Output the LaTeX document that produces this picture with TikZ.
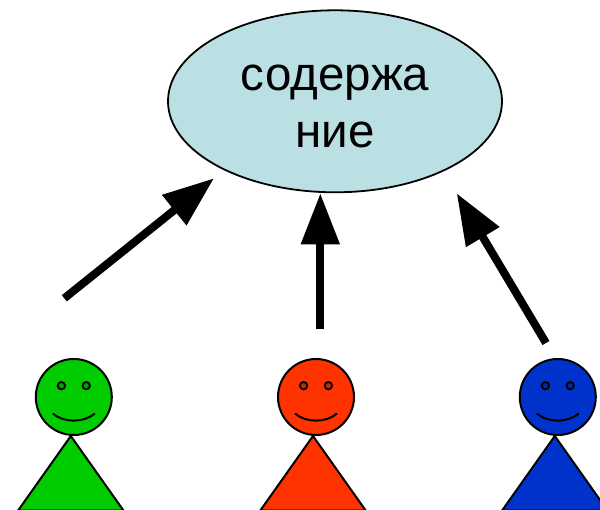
\documentclass[tikz,border=0pt]{standalone}
\usepackage{fontspec}
\setmainfont{Liberation Sans}
\usetikzlibrary{shapes.geometric,arrows.meta}
\tikzset{
 px/.style={x=1pt,y=-1pt},
 bubble/.style={ellipse,draw=black,line width=1.8pt,fill=bubblefill,minimum width=334pt,minimum height=182pt,inner sep=0pt},
 bubbletext/.style={anchor=base,inner sep=0pt,font=\fontsize{47.5}{57}\selectfont},
 arrowline/.style={line width=8pt,-{Triangle[length=51pt,width=37pt]}},
 outline/.style={draw=black,line width=2pt},
}
\definecolor{bubblefill}{RGB}{187,224,227}
\definecolor{pgreen}{RGB}{0,204,0}
\definecolor{pred}{RGB}{255,51,0}
\definecolor{pblue}{RGB}{0,51,204}
\newcommand{\person}[2]{%
 \path[outline,fill=#2] (#1-55.7,510.5) -- (#1-3,436) -- (#1+49.7,510.5) -- cycle;
 \path[outline,fill=#2] (#1,397) circle (38);
 \path[draw=black,line width=1.8pt,fill=#2!80!black] (#1-12.4,385.7) circle (3.7) (#1+12.4,385.7) circle (3.7);
 \path[draw=black,line width=2pt] (#1-21,413.5) .. controls (#1-10,423) and (#1+10,423) .. (#1+21,413.5);
}
\begin{document}
\begin{tikzpicture}[px]
\useasboundingbox (0,0) rectangle (600,510);
\node[bubble] (content) at (335,101.3) {};
\node[bubbletext] (contenttext) at (335,90.7) {\begin{tabular}[t]{@{}c@{}}содержа\\ние\end{tabular}};
\coordinate (a1) at (64.3,298.3);
\coordinate (b1) at (214,178.3);
\coordinate (a2) at (320.3,329);
\coordinate (b2) at (320.3,193.3);
\coordinate (a3) at (546,343);
\coordinate (b3) at (456.7,193.3);
\draw[arrowline] (a1) -- (b1);
\draw[arrowline] (a2) -- (b2);
\draw[arrowline] (a3) -- (b3);
\person{73.8}{pgreen}
\person{316}{pred}
\person{557.8}{pblue}
\end{tikzpicture}
\end{document}
